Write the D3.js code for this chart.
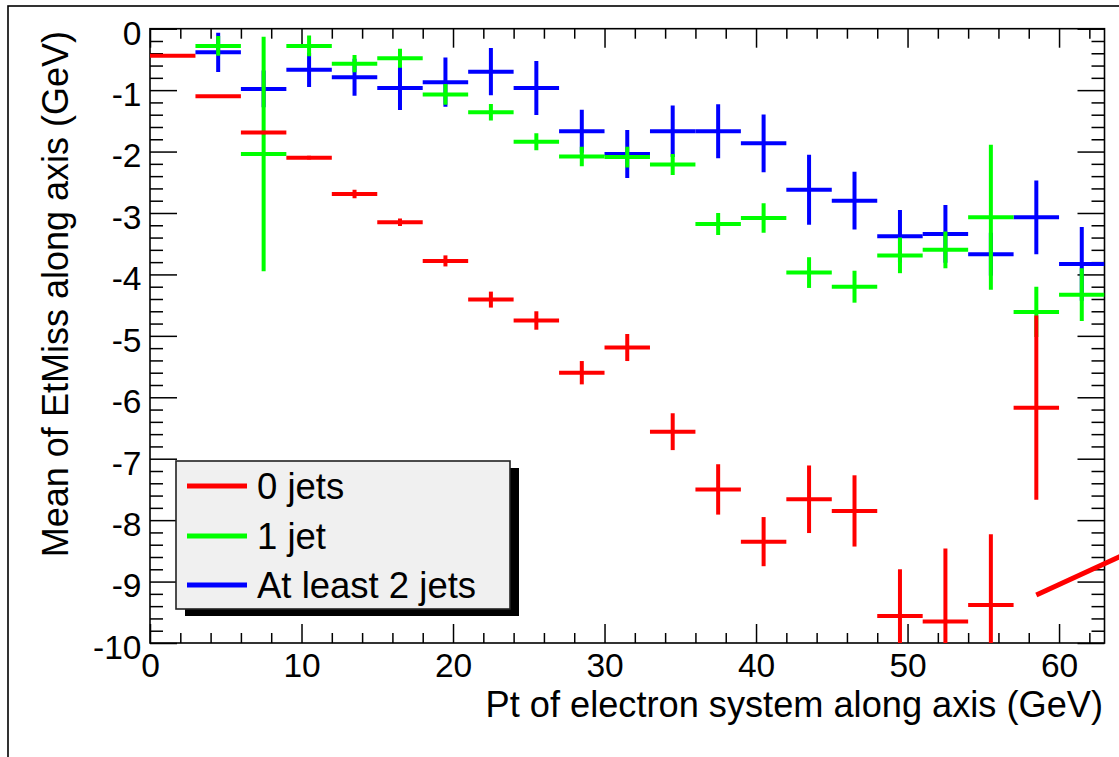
<!DOCTYPE html>
<html>
<head>
<meta charset="utf-8">
<script src="https://cdn.jsdelivr.net/npm/d3@7"></script>
<style>
  html, body { margin: 0; padding: 0; background: #fff; }
  svg { display: block; }
  text { font-family: "Liberation Sans", Arial, Helvetica, sans-serif; fill: #000; }
</style>
</head>
<body>
<svg id="chart" width="1119" height="757"></svg>
<script>
// ---- data ----
const binCenters = [1.5, 4.5, 7.5, 10.5, 13.5, 16.5, 19.5, 22.5, 25.5, 28.5, 31.5, 34.5, 37.5, 40.5, 43.5, 46.5, 49.5, 52.5, 55.5, 58.5, 61.5];
const binHalfWidth = 1.5;

const zeroJetMean = [-0.44, -1.10, -1.69, -2.10, -2.69, -3.15, -3.78, -4.41, -4.75, -5.60, -5.19, -6.56, -7.50, -8.35, -7.66, -7.85, -9.56, -9.65, -9.38, -6.17, null];
const zeroJetErr  = [0.02, 0.02, 0.03, 0.03, 0.07, 0.06, 0.09, 0.13, 0.15, 0.19, 0.22, 0.30, 0.41, 0.40, 0.55, 0.58, 0.76, 1.19, 1.15, 1.50, null];

const oneJetMean = [null, -0.28, -2.04, -0.28, -0.57, -0.48, -1.07, -1.36, -1.84, -2.08, -2.09, -2.21, -3.18, -3.08, -3.97, -4.20, -3.69, -3.60, -3.07, -4.61, -4.33];
const oneJetErr  = [null, 0.16, 1.91, 0.17, 0.14, 0.155, 0.17, 0.135, 0.14, 0.16, 0.17, 0.17, 0.18, 0.24, 0.25, 0.26, 0.29, 0.30, 1.18, 0.41, 0.43];

const twoJetMean = [null, -0.385, -0.98, -0.67, -0.79, -0.965, -0.87, -0.70, -0.965, -1.67, -2.04, -1.67, -1.67, -1.865, -2.62, -2.80, -3.38, -3.34, -3.67, -3.07, -3.83];
const twoJetErr  = [null, 0.32, 0.30, 0.28, 0.30, 0.36, 0.40, 0.385, 0.44, 0.35, 0.39, 0.42, 0.44, 0.47, 0.57, 0.47, 0.43, 0.47, 0.35, 0.60, 0.60];

const seriesNames = ["0 jets", "1 jet", "At least 2 jets"];
const seriesColors = ["#ff0000", "#00ff00", "#0000ff"];

const xMajorTicks = [0, 10, 20, 30, 40, 50, 60];
const yMajorTicks = [0, -1, -2, -3, -4, -5, -6, -7, -8, -9, -10];
const xTitle = "Pt of electron system along axis (GeV)";
const yTitle = "Mean of EtMiss along axis (GeV)";

// annotation stroke (data coordinates)
const annotX = [58.5, 66];
const annotY = [-9.22, -8.37];

// ---- layout ----
const frame = { left: 150, right: 1104.5, top: 28.7, bottom: 643 };
const svg = d3.select("#chart");

const x = d3.scaleLinear().domain([0, 63]).range([frame.left, frame.right]);
const y = d3.scaleLinear().domain([-10, 0]).range([frame.bottom, frame.top]);

// outer pad border
svg.append("rect").attr("x", 8).attr("y", 6).attr("width", 2000).attr("height", 2000)
  .attr("fill", "none").attr("stroke", "#000").attr("stroke-width", 1.6);

const xMinor = d3.range(0, 63.01, 2).filter(v => v % 10 !== 0);
const yMinor = d3.range(-100, 1, 2).map(v => v / 10).filter(v => Math.abs(v - Math.round(v)) > 1e-6);

function styleAxis(g) {
  g.select(".domain").remove();
  g.selectAll(".tick line").attr("stroke", "#000").attr("stroke-width", 1.5);
}

// bottom axis
const gb = svg.append("g").attr("transform", `translate(0,${frame.bottom})`)
  .call(d3.axisBottom(x).tickValues(xMajorTicks).tickSize(-19).tickPadding(10.5).tickFormat(d3.format("d")));
styleAxis(gb);
gb.selectAll("text").attr("font-size", 33.5).attr("font-family", "Liberation Sans, Arial, sans-serif");
svg.append("g").attr("transform", `translate(0,${frame.bottom})`)
  .call(d3.axisBottom(x).tickValues(xMinor).tickSize(-10).tickFormat("")).call(styleAxis);

// top axis
svg.append("g").attr("transform", `translate(0,${frame.top})`)
  .call(d3.axisTop(x).tickValues(xMajorTicks).tickSize(-19).tickFormat("")).call(styleAxis);
svg.append("g").attr("transform", `translate(0,${frame.top})`)
  .call(d3.axisTop(x).tickValues(xMinor).tickSize(-10).tickFormat("")).call(styleAxis);

// left axis
const gl = svg.append("g").attr("transform", `translate(${frame.left},0)`)
  .call(d3.axisLeft(y).tickValues(yMajorTicks).tickSize(-27).tickPadding(8.5).tickFormat(d3.format("d")));
styleAxis(gl);
gl.selectAll("text").attr("font-size", 33.5).attr("dy", "0.46em").attr("font-family", "Liberation Sans, Arial, sans-serif");
gl.selectAll(".tick text").text(d => d === 0 ? "0" : String(d).replace("\u2212", "-"));
svg.append("g").attr("transform", `translate(${frame.left},0)`)
  .call(d3.axisLeft(y).tickValues(yMinor).tickSize(-13).tickFormat("")).call(styleAxis);

// right axis
svg.append("g").attr("transform", `translate(${frame.right},0)`)
  .call(d3.axisRight(y).tickValues(yMajorTicks).tickSize(-27).tickFormat("")).call(styleAxis);
svg.append("g").attr("transform", `translate(${frame.right},0)`)
  .call(d3.axisRight(y).tickValues(yMinor).tickSize(-13).tickFormat("")).call(styleAxis);

// frame
svg.append("rect").attr("x", frame.left).attr("y", frame.top)
  .attr("width", frame.right - frame.left).attr("height", frame.bottom - frame.top)
  .attr("fill", "none").attr("stroke", "#000").attr("stroke-width", 1.6);

// clip
svg.append("clipPath").attr("id", "plotclip").append("rect")
  .attr("x", frame.left).attr("y", frame.top)
  .attr("width", frame.right - frame.left).attr("height", frame.bottom - frame.top);

const plot = svg.append("g").attr("clip-path", "url(#plotclip)");

function drawSeries(means, errs, color) {
  const pts = binCenters.map((c, i) => ({ c, m: means[i], e: errs[i] })).filter(d => d.m !== null);
  const g = plot.append("g").attr("stroke", color).attr("stroke-width", 4).attr("fill", "none");
  g.selectAll("line.h").data(pts).join("line").attr("class", "h")
    .attr("x1", d => x(d.c - binHalfWidth)).attr("x2", d => x(d.c + binHalfWidth))
    .attr("y1", d => y(d.m)).attr("y2", d => y(d.m));
  g.selectAll("line.v").data(pts).join("line").attr("class", "v")
    .attr("x1", d => x(d.c)).attr("x2", d => x(d.c))
    .attr("y1", d => y(d.m - d.e)).attr("y2", d => y(d.m + d.e));
}

drawSeries(twoJetMean, twoJetErr, seriesColors[2]);
drawSeries(oneJetMean, oneJetErr, seriesColors[1]);
drawSeries(zeroJetMean, zeroJetErr, seriesColors[0]);

// annotation stroke
svg.append("line")
  .attr("x1", x(annotX[0])).attr("y1", y(annotY[0]))
  .attr("x2", x(annotX[1])).attr("y2", y(annotY[1]))
  .attr("stroke", "#ff0000").attr("stroke-width", 5);

// axis titles
svg.append("text").attr("x", 1103).attr("y", 717).attr("text-anchor", "end")
  .attr("font-size", 36.2).text(xTitle);
svg.append("text").attr("transform", "translate(68,31) rotate(-90)").attr("text-anchor", "end")
  .attr("font-size", 36).text(yTitle);

// legend
const leg = { x: 176, y: 461, w: 334, h: 148 };
svg.append("rect").attr("x", leg.x + 9).attr("y", leg.y + 7).attr("width", leg.w).attr("height", leg.h)
  .attr("fill", "#000");
svg.append("rect").attr("x", leg.x).attr("y", leg.y).attr("width", leg.w).attr("height", leg.h)
  .attr("fill", "#f0f0f0").attr("stroke", "#222").attr("stroke-width", 1.6);
const legRowsY = [486, 536, 585];
seriesNames.forEach((name, i) => {
  svg.append("line").attr("x1", 187).attr("x2", 247).attr("y1", legRowsY[i]).attr("y2", legRowsY[i])
    .attr("stroke", seriesColors[i]).attr("stroke-width", 5);
  svg.append("text").attr("x", 257).attr("y", legRowsY[i] + 12.5).attr("font-size", 36.5).text(name);
});
</script>
</body>
</html>
